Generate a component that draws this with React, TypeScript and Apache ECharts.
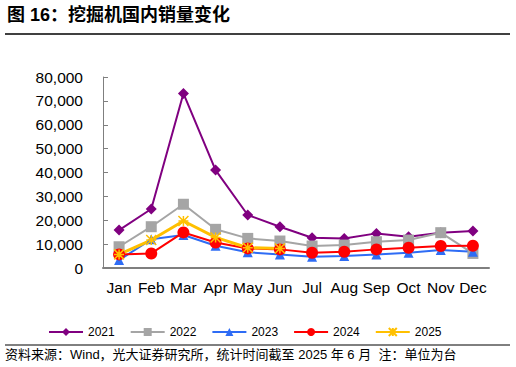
import React, { useEffect, useRef } from "react";
import * as echarts from "echarts";

const months = ["Jan", "Feb", "Mar", "Apr", "May", "Jun", "Jul", "Aug", "Sep", "Oct", "Nov", "Dec"];
const s2021 = [15900, 24700, 73100, 41000, 22200, 17300, 12700, 12400, 14500, 13100, 14800, 15500];
const s2022 = [8900, 17300, 26700, 16200, 12400, 11300, 9200, 9600, 11000, 11700, 14800, 6100];
const s2023 = [3300, 12000, 13800, 9300, 6600, 5700, 4700, 5000, 5700, 6400, 7500, 6800];
const s2024 = [5700, 6100, 14900, 10700, 8200, 7800, 6400, 6800, 7800, 8500, 9200, 9300];
const s2025 = [5700, 11700, 19700, 12800, 8500, 8200];
const yTicks = [0, 10000, 20000, 30000, 40000, 50000, 60000, 70000, 80000];

const starPath = "path://M0,0L10,10M10,0L0,10M5,0L5,10M0,5L10,5";

export default function App() {
  const ref = useRef<HTMLDivElement>(null);
  useEffect(() => {
    const chart = echarts.init(ref.current!, null, { renderer: "svg" });
    const font = "Arial, 'Liberation Sans', 'Noto Sans CJK SC', sans-serif";
    const mk = (name: string, data: number[], color: string, symbol: string, size: number, width: number, extra: any = {}) => ({
      name,
      type: "line",
      data,
      symbol,
      symbolSize: size,
      lineStyle: { color, width },
      itemStyle: { color, ...extra },
      emphasis: { disabled: true },
    });
    chart.setOption({
      animation: false,
      textStyle: { fontFamily: font },
      grid: { left: 103, right: 27, top: 77, bottom: 99 },
      xAxis: {
        type: "category",
        data: months,
        boundaryGap: true,
        axisLine: { lineStyle: { color: "#7f7f7f", width: 2 } },
        axisTick: { inside: true, length: 5, lineStyle: { color: "#7f7f7f", width: 1 } },
        axisLabel: { color: "#000", fontSize: 15.5, margin: 12, interval: 0, fontFamily: font },
        splitLine: { show: false },
      },
      yAxis: {
        type: "value",
        min: yTicks[0],
        max: yTicks[yTicks.length - 1],
        interval: 10000,
        axisLine: { show: true, lineStyle: { color: "#7f7f7f", width: 1 } },
        axisTick: { show: true, inside: true, length: 5, lineStyle: { color: "#7f7f7f" } },
        axisLabel: {
          color: "#000",
          fontSize: 15.5,
          margin: 20,
          fontFamily: font,
          formatter: (v: number) => v.toLocaleString("en-US"),
        },
        splitLine: { show: false },
      },
      legend: {
        left: 43,
        top: 321,
        itemWidth: 34,
        itemHeight: 10,
        itemGap: 15,
        textStyle: { fontSize: 12, color: "#000", fontFamily: font },
        data: ["2021", "2022", "2023", "2024", "2025"],
      },
      series: [
        mk("2021", s2021, "#800080", "diamond", 11, 2),
        mk("2022", s2022, "#a5a5a5", "rect", 11, 2),
        mk("2023", s2023, "#2e6cf5", "triangle", 10, 2),
        mk("2024", s2024, "#ff0000", "circle", 12, 2),
        mk("2025", s2025, "#ffc000", starPath, 10, 3, { borderColor: "#ffc000", borderWidth: 1.5 }),
      ],
      graphic: [
        {
          type: "text",
          left: 7,
          top: 6,
          style: { text: "图 16：挖掘机国内销量变化", fontSize: 18, fontWeight: "bold", fill: "#000", fontFamily: font },
        },
        { type: "line", shape: { x1: 5, y1: 34, x2: 510, y2: 34 }, style: { stroke: "#000", lineWidth: 1.5 } },
        { type: "line", shape: { x1: 5, y1: 345, x2: 510, y2: 345 }, style: { stroke: "#000", lineWidth: 1 } },
        {
          type: "text",
          left: 5,
          top: 348,
          style: {
            text: "资料来源：Wind，光大证券研究所，统计时间截至 2025 年 6 月  注：单位为台",
            fontSize: 13,
            fill: "#000",
            fontFamily: font,
          },
        },
      ],
    });
    return () => chart.dispose();
  }, []);
  return <div ref={ref} style={{ width: 516, height: 367, position: "absolute", left: 0, top: 0 }} />;
}
